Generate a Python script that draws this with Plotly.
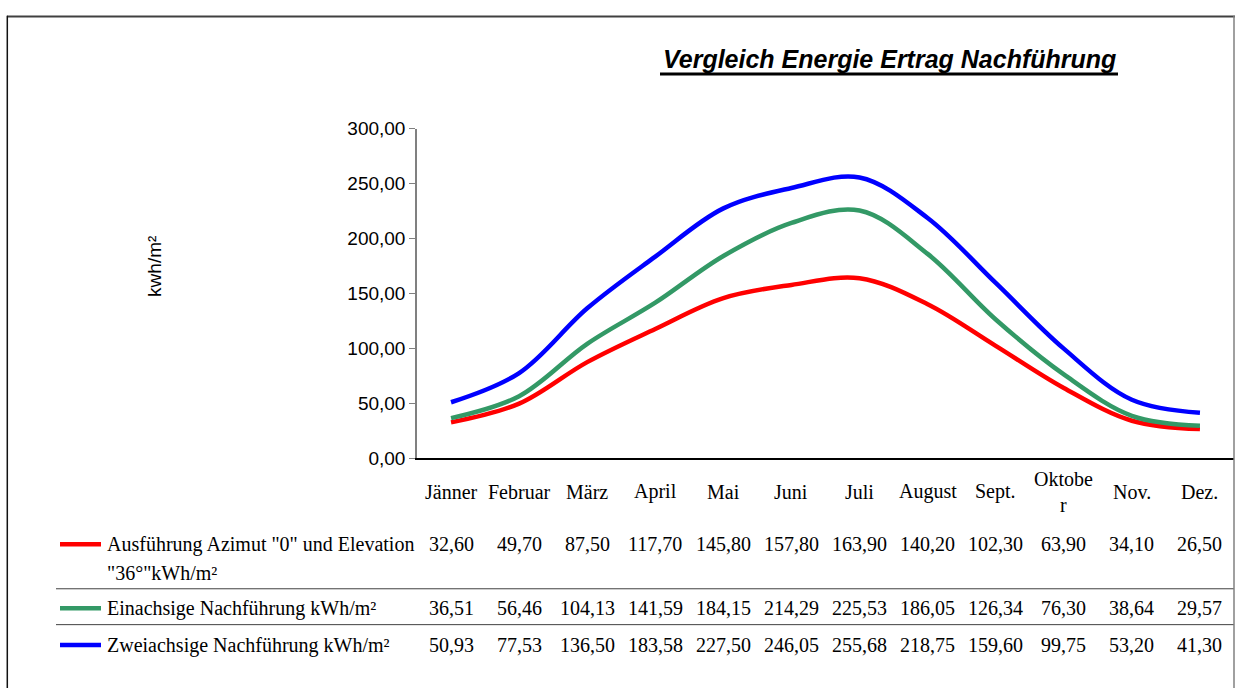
import plotly.graph_objects as go

# Monthly yield data (kWh/m²)
months = ["Jänner", "Februar", "März", "April", "Mai", "Juni",
          "Juli", "August", "Sept.", "Oktober", "Nov.", "Dez."]

fixed_36 = [32.60, 49.70, 87.50, 117.70, 145.80, 157.80,
            163.90, 140.20, 102.30, 63.90, 34.10, 26.50]
single_axis = [36.51, 56.46, 104.13, 141.59, 184.15, 214.29,
               225.53, 186.05, 126.34, 76.30, 38.64, 29.57]
dual_axis = [50.93, 77.53, 136.50, 183.58, 227.50, 246.05,
             255.68, 218.75, 159.60, 99.75, 53.20, 41.30]

series_names = [
    "Ausführung Azimut \"0\" und Elevation<br>\"36°\"kWh/m²",
    "Einachsige Nachführung kWh/m²",
    "Zweiachsige Nachführung kWh/m²",
]
series_values = [fixed_36, single_axis, dual_axis]
series_colors = ["#FF0000", "#339966", "#0000FF"]

y_ticks = [0, 50, 100, 150, 200, 250, 300]

W, H = 1236, 688


def px(x):
    return x / W


def py(y):
    return 1 - y / H


def fmt(v):
    return f"{v:.2f}".replace(".", ",")


x_idx = list(range(len(months)))

fig = go.Figure()
for name, vals, col in zip(series_names, series_values, series_colors):
    fig.add_trace(go.Scatter(
        x=x_idx, y=vals, mode="lines", name=name,
        line=dict(color=col, width=4.5, shape="spline", smoothing=1.0),
        showlegend=False, hoverinfo="skip",
    ))

serif = "Liberation Serif, Times New Roman, serif"
sans = "Liberation Sans, Arial, sans-serif"

annotations = []
shapes = []

# Title with underline
annotations.append(dict(
    text="<b><i>Vergleich Energie Ertrag Nachführung</i></b>",
    x=px(889), y=py(51), xref="paper", yref="paper",
    xanchor="center", yanchor="middle", showarrow=False,
    font=dict(family=sans, size=25, color="black"),
))
shapes.append(dict(type="line", xref="paper", yref="paper",
                   x0=px(660), x1=px(1118), y0=py(66), y1=py(66),
                   line=dict(color="black", width=3)))

# Y-axis title
annotations.append(dict(
    text="kwh/m²", x=px(155), y=py(265), xref="paper", yref="paper",
    xanchor="center", yanchor="middle", textangle=-90, showarrow=False,
    font=dict(family=sans, size=19, color="black"),
))

# Data table: column headers
header_labels = [m if m != "Oktober" else "Oktobe<br>r" for m in months]
for i, lab in enumerate(header_labels):
    annotations.append(dict(
        text=lab, x=i, y=py(497), xref="x", yref="paper",
        xanchor="center", yanchor="middle", showarrow=False,
        font=dict(family=serif, size=20, color="black"),
    ))

# Data table rows: legend key, series name and monthly values
row_y = [551, 617, 655]
for name, vals, col, ry in zip(series_names, series_values, series_colors, row_y):
    for i, v in enumerate(vals):
        annotations.append(dict(
            text=fmt(v), x=i, y=py(ry), xref="x", yref="paper",
            xanchor="center", yanchor="middle", showarrow=False,
            font=dict(family=serif, size=20, color="black"),
        ))
    for k, part in enumerate(name.split("<br>")):
        annotations.append(dict(
            text=part, x=px(105), y=py(ry + 30 * k), xref="paper", yref="paper",
            xanchor="left", yanchor="middle", align="left", showarrow=False,
            font=dict(family=serif, size=20, color="black"),
        ))
    shapes.append(dict(type="line", xref="paper", yref="paper",
                       x0=px(60), x1=px(101), y0=py(ry), y1=py(ry),
                       line=dict(color=col, width=4.5)))

# Row separators
for sy in [597, 634]:
    shapes.append(dict(type="line", xref="paper", yref="paper",
                       x0=px(56), x1=px(1234), y0=py(sy), y1=py(sy),
                       line=dict(color="#404040", width=1)))

# Outer frame
shapes.append(dict(type="line", xref="paper", yref="paper",
                   x0=px(7), x1=px(1235), y0=py(6.7), y1=py(6.7),
                   line=dict(color="#404040", width=2)))
shapes.append(dict(type="line", xref="paper", yref="paper",
                   x0=px(7.3), x1=px(7.3), y0=py(6), y1=py(700),
                   line=dict(color="#111111", width=1.5)))
shapes.append(dict(type="line", xref="paper", yref="paper",
                   x0=px(1234), x1=px(1234), y0=py(6), y1=py(700),
                   line=dict(color="#808080", width=1.5)))

fig.update_layout(
    width=W, height=H,
    margin=dict(l=0, r=0, t=0, b=0),
    paper_bgcolor="white", plot_bgcolor="white",
    separators=",.",
    xaxis=dict(domain=[px(417), px(1234)], range=[-0.5, len(months) - 0.5],
               showticklabels=False, ticks="", showgrid=False, zeroline=False,
               showline=True, linecolor="black", linewidth=1.5),
    yaxis=dict(domain=[py(462.3), py(122.5)], range=[0, 300],
               tickvals=y_ticks, tickformat=".2f", ticks="outside",
               ticklen=6, tickcolor="#808080", showgrid=False, zeroline=False,
               showline=True, linecolor="#808080", linewidth=1.5,
               tickfont=dict(family=sans, size=19, color="black")),
    annotations=annotations,
    shapes=shapes,
    showlegend=False,
)

fig.write_html("out.html")
